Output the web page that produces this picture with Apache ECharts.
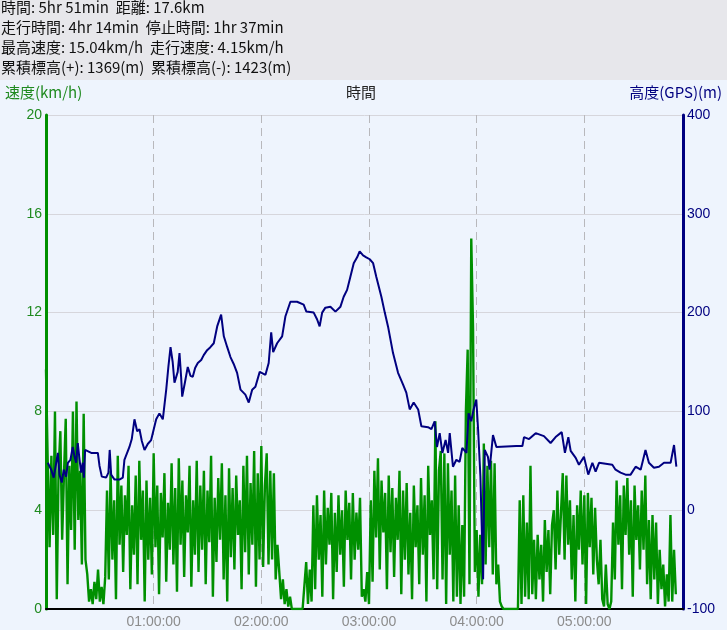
<!DOCTYPE html>
<html>
<head>
<meta charset="utf-8">
<script src="https://cdn.jsdelivr.net/npm/echarts@6/dist/echarts.min.js"></script>
<style>
html,body{margin:0;padding:0;background:#eef4fd;}
#chart{width:727px;height:630px;}
</style>
</head>
<body>
<div id="chart"></div>
<script>
// ---- summary text ----
const summaryLines = [
  '時間: 5hr 51min  距離: 17.6km',
  '走行時間: 4hr 14min  停止時間: 1hr 37min',
  '最高速度: 15.04km/h  走行速度: 4.15km/h',
  '累積標高(+): 1369(m)  累積標高(-): 1423(m)'
];
const leftAxisTitle = '速度(km/h)';
const xAxisTitle = '時間';
const rightAxisTitle = '高度(GPS)(m)';

// ---- speed (km/h), one sample per minute from 0 to 351 min ----
const speedStepMin = 1;
const speedKmh = [
  // 0-22
  9.7,5.8,2.5,6.2,3.0,8.0,0.4,5.6,7.2,2.8,5.4,7.7,1.0,5.8,3.2,8.0,2.4,8.4,3.6,5.6,1.8,7.9,2.0,
  // 23-33
  1.4,0.3,0.8,0.2,1.1,0.4,1.6,0.3,0.9,0.2,1.3,
  // 34-69
  4.8,1.2,5.6,2.0,4.4,0.4,6.2,2.6,5.0,1.5,4.6,3.0,5.8,0.8,4.2,2.2,5.4,1.0,6.0,2.8,
  4.8,0.3,5.2,2.0,4.5,1.4,6.3,2.5,5.0,0.6,4.7,2.9,5.5,1.1,4.3,2.4,
  // 70-86
  5.9,1.8,4.9,0.7,6.1,2.6,5.2,1.3,4.6,3.1,5.8,0.9,4.4,2.2,6.0,1.5,5.0,
  // 87-129
  2.4,5.6,1.0,4.8,2.7,6.2,0.5,4.5,1.9,5.3,2.8,5.9,1.2,4.6,0.3,5.7,2.1,4.9,1.6,5.4,
  3.0,4.4,0.8,5.8,2.3,6.2,1.4,5.1,2.6,6.4,0.9,5.5,2.0,6.6,1.7,5.0,6.3,1.8,5.6,2.0,
  5.5,1.2,2.6,
  // 130-137
  1.5,0.4,1.2,0.2,0.8,0.1,0.5,0,
  // 138-144
  0,0,0,0,0,0,0,
  // 145-148
  1.9,0.2,1.6,0.3,
  // 149-173
  4.2,0.8,4.6,2.0,3.8,0.5,4.8,1.8,4.1,2.6,4.7,0.4,3.9,1.5,4.6,2.2,4.0,0.9,4.8,2.8,
  4.3,1.2,4.7,2.0,3.9,
  // 174-216
  2.4,4.5,0.5,0.8,0.3,1.5,0.2,4.4,1.1,5.6,2.9,6.1,1.6,5.2,3.1,4.7,0.8,5.4,2.3,4.9,
  1.3,4.5,2.8,5.6,0.6,4.8,2.0,5.1,1.4,3.9,0.4,5.0,2.5,4.2,1.0,5.3,2.2,4.6,0.3,5.8,
  3.0,4.4,1.2,
  // 217-231
  7.6,0.8,5.6,6.4,1.2,6.3,0.2,5.9,2.2,4.8,0.3,5.4,0.5,4.2,0.2,
  // 232-238
  3.4,0.5,8.0,10.5,1.0,15.0,11.3,
  // 239-254
  1.5,3.2,0.5,3.0,1.0,6.7,1.8,5.8,2.5,6.0,1.4,5.9,1.0,1.8,0.3,0.1,
  // 255-263
  0,0,0,0,0,0,0,0,0,
  // 264-271
  4.4,0.2,4.6,0.5,3.5,0.4,5.8,0.6,
  // 272-282
  2.8,0.4,3.0,1.2,2.6,0.3,3.6,1.5,3.2,0.6,3.4,
  // 283-309
  4.0,1.6,4.8,2.2,3.9,5.5,2.0,5.4,2.6,4.4,1.2,3.8,0.3,4.2,2.4,4.8,1.8,4.6,0.2,4.7,
  2.5,4.5,1.4,4.1,2.0,1.0,2.8,
  // 310-315
  0.4,0.1,1.8,0.2,0,0.3,
  // 316-335
  3.5,1.2,5.2,2.6,4.6,0.8,5.0,3.0,5.3,2.2,4.4,0.5,5.0,2.8,4.2,1.6,4.8,2.4,5.4,1.0,
  // 336-347
  3.6,0.4,3.8,1.2,3.5,0.2,2.4,0.8,1.8,0.1,1.4,0.3,
  // 348-351
  3.8,0.3,2.4,0.6
];

// ---- altitude (m), read at irregular times (minutes) ----
const altTimeMin = [
  1.0,2.9,4.3,5.7,6.6,7.5,8.8,9.9,11.2,12.2,13.6,14.9,15.9,16.8,17.7,18.7,19.6,20.5,21.1,21.8,
  22.4,25.2,28.9,29.8,31.1,33.5,34.8,35.5,36.3,38.2,40.9,42.8,43.7,46.5,47.8,49.3,50.8,52.1,53.4,54.9,
  56.7,58.6,61.4,63.2,65.1,67.0,68.2,69.4,70.6,71.6,73.4,74.4,75.3,75.9,77.5,79.0,80.5,81.8,83.1,84.6,
  86.5,87.9,89.8,91.6,93.5,95.4,97.6,99.1,101.0,102.8,104.6,106.5,108.4,111.1,113.0,114.9,116.7,119.1,122.3,124.1,
  125.5,126.6,128.8,131.6,133.4,136.2,139.9,143.6,145.1,149.2,151.1,152.5,153.9,155.7,158.5,161.3,164.1,165.9,167.8,169.6,
  171.5,173.4,174.8,176.7,178.5,180.4,182.3,184.1,186.9,188.8,190.6,193.4,196.2,199.0,200.8,202.7,204.9,207.4,209.2,212.9,
  214.8,216.6,217.9,219.4,220.9,222.7,224.1,225.0,226.8,228.7,230.5,232.0,234.3,235.5,237.0,238.3,239.8,240.8,242.1,243.6,
  244.5,246.3,247.2,249.1,251.0,262.1,265.5,266.4,269.2,272.9,277.5,281.2,284.0,287.4,289.2,291.1,292.4,295.2,297.0,299.8,
  302.2,304.5,306.3,308.2,315.6,317.4,320.2,323.0,325.8,328.6,331.4,334.1,336.0,338.8,341.6,344.4,348.1,350.0,351.3
];
const altitudeM = [
  48,41,33,48,58,36,28,41,34,48,51,64,54,48,68,51,38,48,33,61,
  61,58,58,45,34,33,38,61,36,31,31,33,51,64,72,92,80,82,70,61,
  67,71,92,98,92,122,145,165,150,129,140,159,135,115,130,145,136,135,144,149,
  152,157,162,165,169,186,198,176,165,155,148,139,122,117,109,122,125,140,137,149,
  180,160,169,176,196,211,211,208,201,200,193,186,200,205,206,201,206,216,223,236,
  250,256,262,258,256,254,250,236,216,200,186,159,139,127,119,102,109,102,85,84,
  82,90,64,78,58,71,58,78,44,51,49,63,58,98,90,102,112,82,34,-70,
  61,54,41,76,64,65,65,74,72,78,75,68,74,79,58,74,60,53,46,54,
  36,48,39,48,46,41,38,36,36,44,41,61,48,43,44,48,48,66,44
];

// ---- axis ticks ----
const speedTicks = {min: 0, max: 20, step: 4};
const altTicks = {min: -100, max: 400, step: 100};
const timeTicks = {min: 0, max: 355, step: 60};

const GREEN = '#009000';
const GREEN_TXT = '#1f8a1f';
const NAVY = '#000080';

function fmtTime(v) {
  if (v <= 0 || v % 60 !== 0 || v >= timeTicks.max) return '';
  const h = String(v / 60).padStart(2, '0');
  return h + ':00:00';
}

const chart = echarts.init(document.getElementById('chart'), null, {renderer: 'canvas'});
const cjk = '"Noto Sans CJK JP", sans-serif';
const num = '"Liberation Sans", "DejaVu Sans", sans-serif';

const headerGraphics = [{
  type: 'rect', left: 0, top: 0, shape: {width: 727, height: 80},
  style: {fill: '#e7e7eb'}, silent: true, z: 0
}];
summaryLines.forEach((t, i) => {
  headerGraphics.push({
    type: 'text', left: 1, top: 0 + i * 20,
    style: {text: t, fill: '#111', font: '15px ' + cjk}
  });
});
headerGraphics.push(
  {type: 'text', left: 5, top: 85, style: {text: leftAxisTitle, fill: GREEN_TXT, font: '15px ' + cjk}},
  {type: 'text', left: 346, top: 85, style: {text: xAxisTitle, fill: '#222', font: '15px ' + cjk}},
  {type: 'text', right: 5, top: 85, style: {text: rightAxisTitle, fill: NAVY, font: '15px ' + cjk}}
);

chart.setOption({
  backgroundColor: '#eef4fd',
  animation: false,
  grid: {left: 46, right: 44, top: 115, bottom: 21, containLabel: false},
  graphic: headerGraphics,
  xAxis: {
    type: 'value', min: timeTicks.min, max: timeTicks.max, interval: timeTicks.step,
    axisLine: {show: true, onZero: false, lineStyle: {color: '#000', width: 2}},
    axisTick: {show: false},
    axisLabel: {formatter: fmtTime, color: '#8c8c8c', fontFamily: num, fontSize: 14, margin: 6,
      showMinLabel: false, showMaxLabel: false},
    splitLine: {show: true, lineStyle: {color: '#b8b8bc', type: [8, 5], width: 1}}
  },
  yAxis: [{
    type: 'value', min: speedTicks.min, max: speedTicks.max, interval: speedTicks.step,
    position: 'left',
    axisLine: {show: true, lineStyle: {color: GREEN, width: 3}},
    axisTick: {show: false},
    axisLabel: {color: GREEN_TXT, fontFamily: num, fontSize: 14, margin: 4},
    splitLine: {show: true, lineStyle: {color: '#d6d6dc', width: 1}}
  }, {
    type: 'value', min: altTicks.min, max: altTicks.max, interval: altTicks.step,
    position: 'right',
    axisLine: {show: true, lineStyle: {color: NAVY, width: 3}},
    axisTick: {show: false},
    axisLabel: {color: NAVY, fontFamily: num, fontSize: 14, margin: 4},
    splitLine: {show: false}
  }],
  series: [{
    type: 'line', name: 'speed', yAxisIndex: 0, showSymbol: false, symbol: 'none',
    data: speedKmh.map((v, i) => [i * speedStepMin, v]),
    lineStyle: {color: GREEN, width: 2.4}, z: 2
  }, {
    type: 'line', name: 'altitude', yAxisIndex: 1, showSymbol: false, symbol: 'none',
    data: altTimeMin.map((t, i) => [t, altitudeM[i]]),
    lineStyle: {color: NAVY, width: 2}, z: 3
  }]
});
</script>
</body>
</html>
